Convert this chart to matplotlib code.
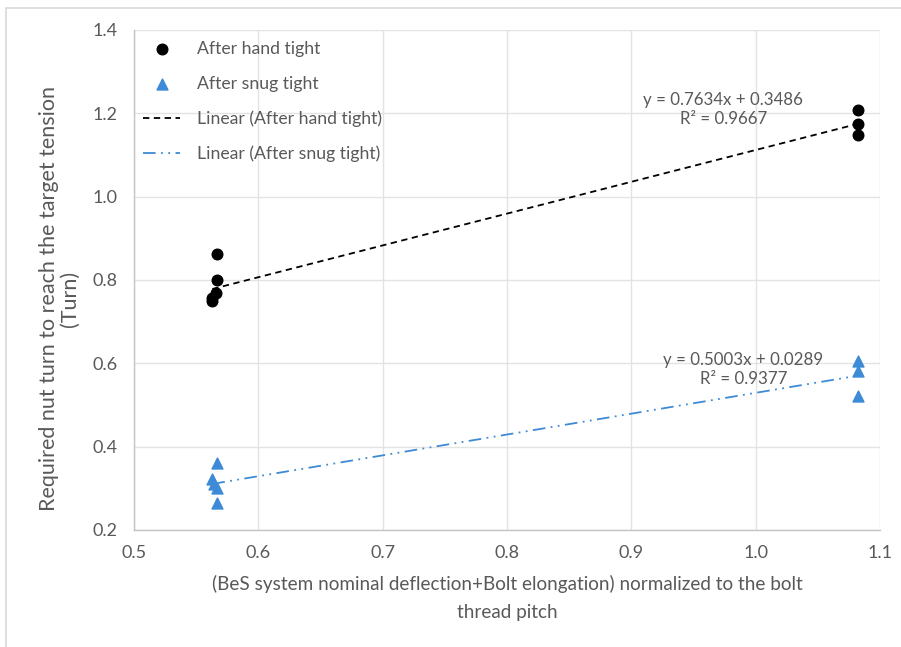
import numpy as np
import matplotlib.pyplot as plt
from matplotlib.patches import Rectangle

plt.rcParams['font.family'] = ['Lato', 'DejaVu Sans']

# measured points
hand_x = [0.567, 0.567, 0.566, 0.563, 0.563, 1.082, 1.082, 1.082]
hand_y = [0.862, 0.800, 0.769, 0.757, 0.750, 1.208, 1.174, 1.148]
snug_x = [0.567, 0.563, 0.564, 0.567, 0.567, 1.082, 1.082, 1.082]
snug_y = [0.360, 0.322, 0.310, 0.300, 0.265, 0.606, 0.582, 0.522]

# trendline coefficients (slope, intercept, R^2)
hand_fit = (0.7634, 0.3486, 0.9667)
snug_fit = (0.5003, 0.0289, 0.9377)

xticks = [0.5, 0.6, 0.7, 0.8, 0.9, 1.0, 1.1]
yticks = [0.2, 0.4, 0.6, 0.8, 1.0, 1.2, 1.4]

blue = '#3d8bd6'
grey = '#595959'

fig = plt.figure(figsize=(9.01, 6.47), dpi=100)
ax = fig.add_axes([134/901, 1 - 530/647, 746/901, 500/647])

# chart frame
fig.patches.append(Rectangle((6/901, -0.1), 1.2, 1.1 - 8/647, transform=fig.transFigure,
                             fill=False, edgecolor='#d9d9d9', linewidth=1.2))

ax.scatter(hand_x, hand_y, s=58, marker='o', color='black', zorder=3, label='After hand tight')
ax.scatter(snug_x, snug_y, s=62, marker='^', color=blue, zorder=3, label='After snug tight')

hx = np.array([min(hand_x), max(hand_x)])
sx = np.array([min(snug_x), max(snug_x)])
ax.plot(hx, hand_fit[0] * hx + hand_fit[1], color='black', lw=1.3,
        linestyle=(0, (3.5, 2.5)), label='Linear (After hand tight)')
ax.plot(sx, snug_fit[0] * sx + snug_fit[1], color=blue, lw=1.3,
        linestyle=(0, (7, 3, 1, 3, 1, 3)), label='Linear (After snug tight)')

eq = 'y = %.4fx + %.4f\nR\u00b2 = %.4f'
ax.text(0.9740, 1.209, eq % hand_fit, ha='center', va='center',
        fontsize=12.2, color=grey, linespacing=1.25)
ax.text(0.9900, 0.586, eq % snug_fit, ha='center', va='center',
        fontsize=12.2, color=grey, linespacing=1.25)

ax.set_xlim(0.5, 1.1)
ax.set_ylim(0.2, 1.4)
ax.set_xticks(xticks)
ax.set_yticks(yticks)
ax.set_xticklabels(['%.1f' % v for v in xticks])
ax.set_yticklabels(['%.1f' % v for v in yticks])
ax.tick_params(length=0, labelsize=13, colors=grey)
ax.tick_params(axis='x', pad=11)
ax.tick_params(axis='y', pad=12)
ax.grid(True, color='#e3e3e3', lw=1)
ax.set_axisbelow(True)
for side in ['top', 'right']:
    ax.spines[side].set_visible(False)
for side in ['left', 'bottom']:
    ax.spines[side].set_color('#c4c4c4')
    ax.spines[side].set_linewidth(1.0)

ax.set_xlabel('(BeS system nominal deflection+Bolt elongation) normalized to the bolt\nthread pitch',
              fontsize=13.6, color=grey, labelpad=10, linespacing=1.8)
ax.set_ylabel('Required nut turn to reach the target tension\n(Turn)',
              fontsize=15.5, color=grey, linespacing=1.05)
ax.yaxis.set_label_coords(-0.072, 0.462)

leg = ax.legend(loc='upper left', bbox_to_anchor=(9/746, 1 - 11/500), frameon=False,
                fontsize=12.7, labelcolor=grey, handlelength=2.1, handletextpad=0.95,
                labelspacing=1.06, borderpad=0, borderaxespad=0)

fig.savefig('out.png', dpi=100)
